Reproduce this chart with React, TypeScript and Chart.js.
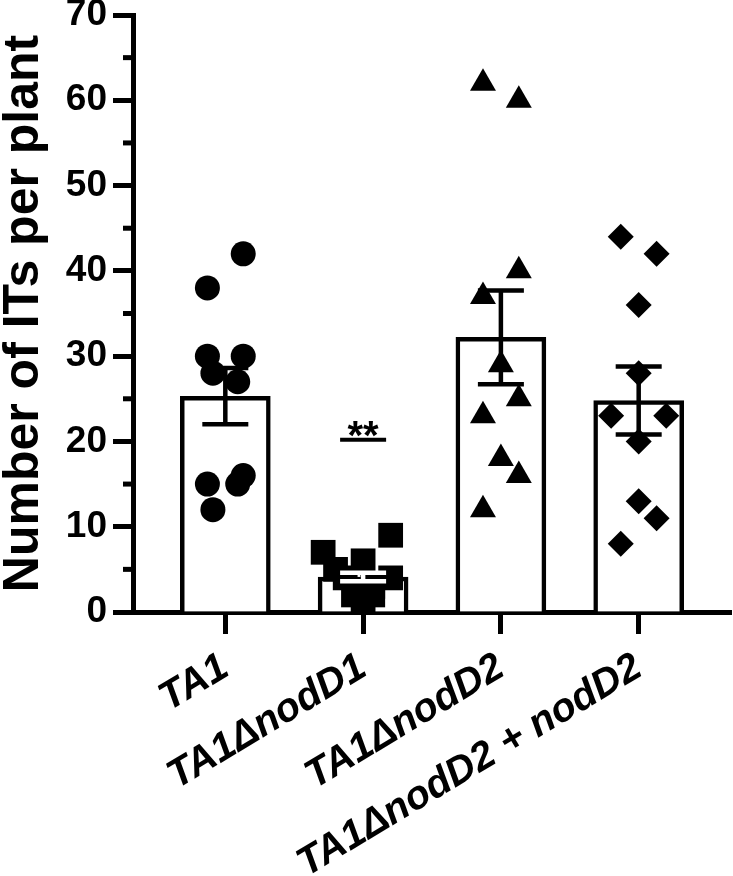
import React, { useEffect, useRef } from 'react';
import { Chart, registerables } from 'chart.js';

Chart.register(...registerables);

const categories = ['TA1', 'TA1\u0394nodD1', 'TA1\u0394nodD2', 'TA1\u0394nodD2 + nodD2'];
const means = [25.3, 4.1, 32.2, 24.8];
const sems = [3.3, 0.5, 5.5, 4.0];

const ta1Values = [42, 38, 30, 30, 28, 27, 16, 15, 15, 12];
const ta1Jitter = [0.13, -0.13, -0.13, 0.13, -0.09, 0.09, 0.13, -0.13, 0.09, -0.09];

const nodD1Values = [9, 7, 6, 5, 4, 4, 3, 2, 2, 1];
const nodD1Jitter = [0.2, -0.29, 0.0, -0.2, 0.2, -0.13, 0.07, -0.07, 0.07, 0.0];

const nodD2Values = [62, 60, 40, 37, 29, 25, 23, 18, 16, 12];
const nodD2Jitter = [-0.13, 0.13, 0.13, -0.13, 0.0, 0.13, -0.13, 0.0, 0.13, -0.13];

const compValues = [44, 42, 36, 28, 23, 23, 20, 13, 11, 8];
const compJitter = [-0.13, 0.13, 0.0, 0.0, -0.2, 0.2, 0.0, 0.0, 0.13, -0.13];

const yTicks = [0, 10, 20, 30, 40, 50, 60, 70];
const yMinorTicks = [5, 15, 25, 35, 45, 55, 65];
const sigLabel = '**';
const sigGroup = 1;
const sigValue = 20.2;

const errorColors = ['#000', '#fff', '#000', '#000'];
const FONT = '"Liberation Sans", Arial, sans-serif';

export default function App() {
  const ref = useRef<HTMLCanvasElement | null>(null);

  useEffect(() => {
    if (!ref.current) return;
    const groups = [
      { values: ta1Values, jitter: ta1Jitter, style: 'circle', r: 12.5 },
      { values: nodD1Values, jitter: nodD1Jitter, style: 'rect', r: 17.5 },
      { values: nodD2Values, jitter: nodD2Jitter, style: 'triangle', r: 15 },
      { values: compValues, jitter: compJitter, style: 'rectRot', r: 13 },
    ];

    const overlay = {
      id: 'overlay',
      afterDatasetsDraw(chart: any) {
        const ctx = chart.ctx;
        const xs = chart.scales.x;
        const ys = chart.scales.y;
        ctx.save();
        ctx.lineWidth = 4.5;
        ctx.lineCap = 'butt';
        means.forEach((m, i) => {
          const x = xs.getPixelForValue(i);
          const yT = ys.getPixelForValue(m + sems[i]);
          const yB = ys.getPixelForValue(m - sems[i]);
          ctx.strokeStyle = errorColors[i];
          ctx.beginPath();
          ctx.moveTo(x, yT);
          ctx.lineTo(x, yB);
          ctx.moveTo(x - 23, yT);
          ctx.lineTo(x + 23, yT);
          ctx.moveTo(x - 23, yB);
          ctx.lineTo(x + 23, yB);
          ctx.stroke();
        });
        ctx.strokeStyle = '#000';
        // significance
        const sx = xs.getPixelForValue(sigGroup);
        const sy = ys.getPixelForValue(sigValue);
        ctx.lineWidth = 4;
        ctx.beginPath();
        ctx.moveTo(sx - 23, sy);
        ctx.lineTo(sx + 23, sy);
        ctx.stroke();
        ctx.fillStyle = '#000';
        ctx.font = `bold 40px ${FONT}`;
        ctx.textAlign = 'center';
        ctx.textBaseline = 'alphabetic';
        ctx.fillText(sigLabel, sx, sy + 9);
        // minor y ticks
        ctx.lineWidth = 5;
        const left = chart.chartArea.left;
        yMinorTicks.forEach((v) => {
          const y = ys.getPixelForValue(v);
          ctx.beginPath();
          ctx.moveTo(left - 10, y);
          ctx.lineTo(left, y);
          ctx.stroke();
        });
        ctx.restore();
      },
    };

    const chart = new Chart(ref.current, {
      type: 'bar',
      data: {
        datasets: [
          ...groups.map((g, i) => ({
            type: 'scatter' as const,
            data: g.values.map((v, j) => ({ x: i + g.jitter[j], y: v })),
            pointStyle: g.style as any,
            pointRadius: g.r,
            backgroundColor: '#000',
            borderColor: '#000',
            borderWidth: 0,
            order: 1,
          })),
          {
            type: 'bar' as const,
            data: means.map((m, i) => ({ x: i, y: m })),
            backgroundColor: '#fff',
            borderColor: '#000',
            borderWidth: 4.5,
            barThickness: 90,
            order: 10,
          } as any,
        ],
      },
      options: {
        responsive: false,
        animation: false,
        devicePixelRatio: 1,
        layout: { autoPadding: false, padding: { top: 15, right: 2, left: 0, bottom: 0 } },
        plugins: { legend: { display: false }, tooltip: { enabled: false } },
        scales: {
          x: {
            type: 'linear',
            offset: false,
            min: -0.67,
            max: 3.67,
            afterFit: (s: any) => {
              s.height = 264;
              s.paddingLeft = 0;
              s.paddingRight = 0;
            },
            afterBuildTicks: (s: any) => {
              s.ticks = categories.map((_, i) => ({ value: i }));
            },
            grid: {
              offset: false,
              drawOnChartArea: false,
              drawTicks: true,
              tickLength: 22,
              tickWidth: 5,
              tickColor: '#000',
            },
            border: { display: true, width: 5, color: '#000' },
            ticks: {
              autoSkip: false,
              minRotation: 31,
              maxRotation: 31,
              padding: 10,
              color: '#000',
              font: { family: FONT, size: 40, weight: 'bold', style: 'italic' },
              callback: (v: any) => categories[v] ?? '',
            },
          },
          y: {
            type: 'linear',
            min: 0,
            max: 70,
            afterFit: (s: any) => {
              s.width = 133;
              s.paddingTop = 0;
              s.paddingBottom = 0;
            },
            afterBuildTicks: (s: any) => {
              s.ticks = yTicks.map((v) => ({ value: v }));
            },
            grid: {
              drawOnChartArea: false,
              drawTicks: true,
              tickLength: 20,
              tickWidth: 5,
              tickColor: '#000',
            },
            border: { display: true, width: 5, color: '#000' },
            ticks: {
              padding: 6,
              color: '#000',
              font: { family: FONT, size: 37, weight: 'bold' },
            },
            title: {
              display: true,
              text: 'Number of ITs per plant',
              color: '#000',
              font: { family: FONT, size: 50, weight: 'bold' },
              padding: { top: -6, bottom: 0 },
            },
          },
        },
      } as any,
      plugins: [overlay],
    });
    return () => chart.destroy();
  }, []);

  return (
    <div style={{ position: 'absolute', left: 0, top: 0, width: 733, height: 876, background: '#fff' }}>
      <canvas ref={ref} width={733} height={876} />
    </div>
  );
}
